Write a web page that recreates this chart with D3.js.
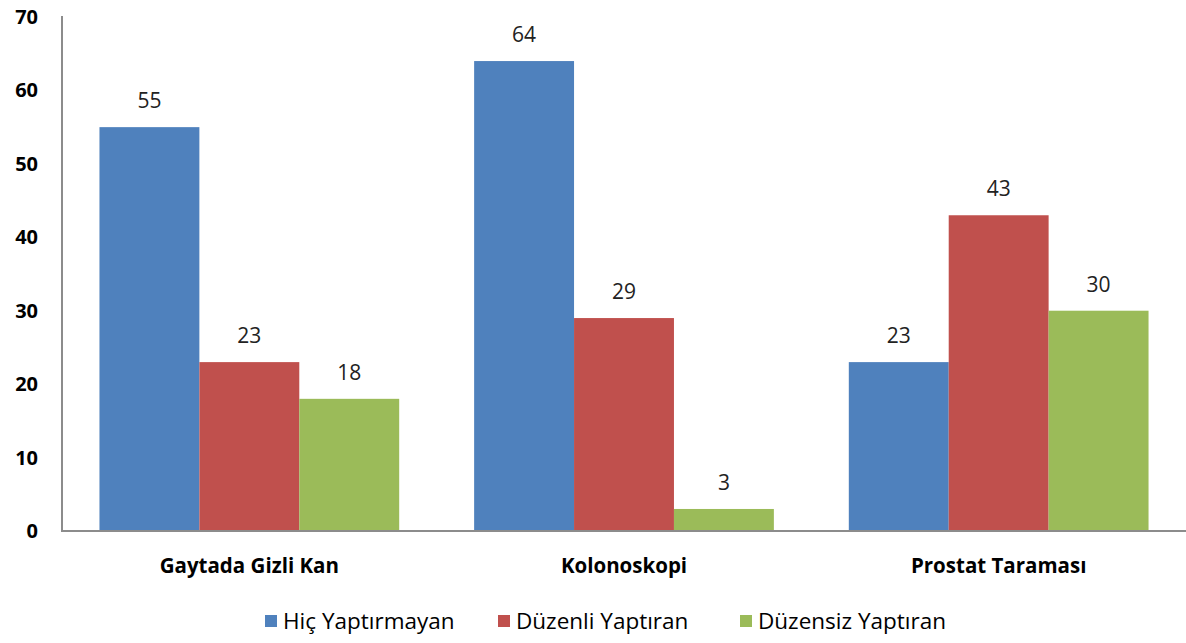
<!DOCTYPE html>
<html>
<head>
<meta charset="utf-8">
<script src="https://cdn.jsdelivr.net/npm/d3@7"></script>
<style>
  html, body { margin: 0; padding: 0; background: #fff; }
  svg { display: block; font-family: "Open Sans", "Noto Sans", sans-serif; }
  .tick-label { font-weight: bold; font-size: 20px; fill: #000; }
  .cat-label { font-weight: bold; font-size: 20.5px; fill: #000; }
  .value-label { font-size: 21px; fill: #222; }
  .legend-label { font-size: 22.5px; fill: #000; }
</style>
</head>
<body>
<svg id="chart" width="1186" height="643"></svg>
<script>
  const categories = ["Gaytada Gizli Kan", "Kolonoskopi", "Prostat Taraması"];
  const seriesNames = ["Hiç Yaptırmayan", "Düzenli Yaptıran", "Düzensiz Yaptıran"];
  const seriesColors = ["#4f81bd", "#c0504d", "#9bbb59"];
  const hicYaptirmayan = [55, 64, 23];
  const duzenliYaptiran = [23, 29, 43];
  const duzensizYaptiran = [18, 3, 30];
  const yTicks = [0, 10, 20, 30, 40, 50, 60, 70];

  const seriesValues = [hicYaptirmayan, duzenliYaptiran, duzensizYaptiran];

  const svg = d3.select("#chart");
  const margin = { left: 62, right: 0, top: 17, bottom: 112 };
  const width = 1186, height = 643;

  // Excel-style: bars touch inside a group, 20% of each group is the gap
  const x0 = d3.scaleBand().domain(categories).range([margin.left, width - margin.right]);
  const groupStep = x0.bandwidth();
  const x1 = d3.scaleBand().domain(seriesNames).range([0, groupStep * 0.8]);

  const y = d3.scaleLinear().domain([0, 70]).range([height - margin.bottom, margin.top]);

  const rows = (c, i) => seriesNames.map((s, j) => ({ s, j, v: seriesValues[j][i] }));

  const groups = svg.append("g").selectAll("g")
    .data(categories)
    .join("g")
    .attr("transform", (c) => `translate(${x0(c) + groupStep * 0.1},0)`);

  groups.selectAll("rect")
    .data(rows)
    .join("rect")
    .attr("x", (d) => x1(d.s))
    .attr("width", x1.bandwidth())
    .attr("y", (d) => y(d.v))
    .attr("height", (d) => y(0) - y(d.v))
    .attr("fill", (d) => seriesColors[d.j]);

  groups.selectAll("text.value-label")
    .data(rows)
    .join("text")
    .attr("class", "value-label")
    .attr("x", (d) => x1(d.s) + x1.bandwidth() / 2)
    .attr("y", (d) => y(d.v) - 19)
    .attr("text-anchor", "middle")
    .text((d) => d.v);

  // axes
  svg.append("line")
    .attr("x1", margin.left).attr("x2", margin.left)
    .attr("y1", y(70) - 1).attr("y2", y(0))
    .attr("stroke", "#8c8c8c").attr("stroke-width", 2);
  svg.append("line")
    .attr("x1", margin.left - 1).attr("x2", width)
    .attr("y1", y(0)).attr("y2", y(0))
    .attr("stroke", "#8c8c8c").attr("stroke-width", 2);

  svg.append("g").selectAll("text")
    .data(yTicks)
    .join("text")
    .attr("class", "tick-label")
    .attr("x", 38)
    .attr("y", (d) => y(d))
    .attr("dy", "0.35em")
    .attr("text-anchor", "end")
    .text((d) => d);

  svg.append("g").selectAll("text")
    .data(categories)
    .join("text")
    .attr("class", "cat-label")
    .attr("x", (c) => x0(c) + groupStep / 2)
    .attr("y", 566)
    .attr("dy", "0.35em")
    .attr("text-anchor", "middle")
    .text((c) => c);

  // legend
  const legendX = [265, 498, 740];
  const legend = svg.append("g").selectAll("g")
    .data(seriesNames)
    .join("g")
    .attr("transform", (d, i) => `translate(${legendX[i]},621)`);
  legend.append("rect")
    .attr("x", 0).attr("y", -6).attr("width", 12).attr("height", 12)
    .attr("fill", (d, i) => seriesColors[i]);
  legend.append("text")
    .attr("class", "legend-label")
    .attr("x", 18)
    .attr("dy", "0.35em")
    .text((d) => d);
</script>
</body>
</html>
